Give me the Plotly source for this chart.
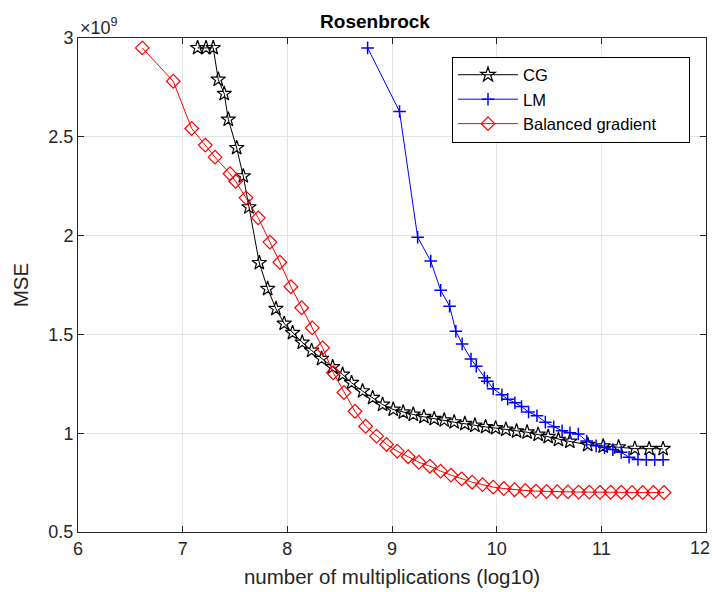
import plotly.graph_objects as go

# x: number of multiplications (log10); y: MSE in units of 1e9
cg_x = [7.143, 7.223, 7.292, 7.340, 7.397, 7.436, 7.516, 7.579, 7.633, 7.732,
        7.812, 7.891, 7.970, 8.050, 8.142, 8.232, 8.327, 8.433, 8.528, 8.614,
        8.719, 8.815, 8.910, 9.012, 9.107, 9.203, 9.305, 9.403, 9.499, 9.594,
        9.696, 9.792, 9.894, 9.990, 10.088, 10.190, 10.291, 10.396, 10.492, 10.590,
        10.699, 10.870, 11.018, 11.165, 11.320, 11.457, 11.590]
cg_y = [2.950, 2.950, 2.950, 2.790, 2.718, 2.588, 2.444, 2.301, 2.144, 1.862,
        1.731, 1.630, 1.555, 1.508, 1.459, 1.418, 1.377, 1.335, 1.297, 1.255,
        1.213, 1.179, 1.145, 1.120, 1.106, 1.095, 1.083, 1.073, 1.066, 1.056,
        1.048, 1.039, 1.032, 1.026, 1.019, 1.010, 1.005, 0.993, 0.982, 0.967,
        0.958, 0.942, 0.934, 0.929, 0.922, 0.921, 0.921]

lm_x = [8.767, 9.072, 9.245, 9.370, 9.465, 9.550, 9.610, 9.670, 9.755, 9.805,
        9.883, 9.911, 9.967, 10.050, 10.105, 10.174, 10.238, 10.305, 10.385, 10.465,
        10.545, 10.625, 10.700, 10.780, 10.860, 10.950, 11.030, 11.110, 11.190, 11.265,
        11.350, 11.430, 11.510, 11.590]
lm_y = [2.950, 2.628, 1.992, 1.871, 1.723, 1.643, 1.516, 1.452, 1.375, 1.339,
        1.280, 1.263, 1.225, 1.194, 1.172, 1.154, 1.135, 1.107, 1.088, 1.056,
        1.033, 1.012, 1.002, 0.996, 0.960, 0.936, 0.927, 0.917, 0.903, 0.878,
        0.867, 0.866, 0.866, 0.866]

bg_x = [6.614, 6.910, 7.086, 7.216, 7.309, 7.452, 7.506, 7.605, 7.722, 7.834,
        7.929, 8.034, 8.137, 8.238, 8.337, 8.439, 8.541, 8.646, 8.748, 8.853,
        8.948, 9.050, 9.155, 9.257, 9.362, 9.464, 9.563, 9.665, 9.766, 9.865,
        9.967, 10.069, 10.171, 10.273, 10.375, 10.477, 10.579, 10.681, 10.783, 10.885,
        10.987, 11.089, 11.191, 11.293, 11.395, 11.497, 11.599]
bg_y = [2.950, 2.781, 2.542, 2.458, 2.397, 2.313, 2.275, 2.191, 2.090, 1.967,
        1.865, 1.741, 1.635, 1.533, 1.432, 1.306, 1.206, 1.111, 1.035, 0.985,
        0.943, 0.909, 0.881, 0.853, 0.833, 0.808, 0.788, 0.769, 0.752, 0.740,
        0.727, 0.720, 0.714, 0.710, 0.707, 0.705, 0.704, 0.703, 0.702, 0.702,
        0.701, 0.701, 0.701, 0.700, 0.700, 0.700, 0.700]

x_ticks = [6, 7, 8, 9, 10, 11, 12]
x_ticktext = ["6", "7", "8", "9", "10", "11", "12"]
y_ticks = [0.5, 1, 1.5, 2, 2.5, 3]
y_ticktext = ["0.5", "1", "1.5", "2", "2.5", "3"]

TXT = "#262626"
FONT = "Liberation Sans, Arial, sans-serif"

fig = go.Figure()
fig.add_trace(go.Scatter(
    x=cg_x, y=cg_y, name="CG", mode="lines+markers",
    line=dict(color="black", width=1),
    marker=dict(symbol="star-open", size=11, color="black", line=dict(color="black", width=1.2)),
))
fig.add_trace(go.Scatter(
    x=lm_x, y=lm_y, name="LM", mode="lines+markers",
    line=dict(color="#0000ff", width=1),
    marker=dict(symbol="cross-thin-open", size=9, color="#0000ff", line=dict(color="#0000ff", width=1.5)),
))
fig.add_trace(go.Scatter(
    x=bg_x, y=bg_y, name="Balanced gradient\u00a0\u00a0\u00a0\u00a0\u00a0\u00a0", mode="lines+markers",
    line=dict(color="#ff0000", width=1),
    marker=dict(symbol="diamond-open", size=10.5, color="#ff0000", line=dict(color="#ff0000", width=1.2)),
))

axis_common = dict(
    showline=True, linecolor=TXT, linewidth=1, mirror="ticks",
    ticks="inside", ticklen=6, tickcolor=TXT, tickwidth=1,
    showgrid=True, gridcolor="#e3e3e3", gridwidth=1,
    zeroline=False, tickfont=dict(family=FONT, size=18, color=TXT),
    ticklabeloverflow="allow", automargin=False,
)

# the last x tick label sits at the right edge of the page; it is drawn as a
# right-aligned annotation so that it stays fully inside the picture
x_ticktext_axis = x_ticktext[:-1] + [""]

fig.update_layout(
    width=712, height=592,
    margin=dict(l=78, r=6, t=38, b=60, autoexpand=False),
    paper_bgcolor="white", plot_bgcolor="white",
    font=dict(family=FONT, color=TXT),
    title=dict(text="<b>Rosenbrock</b>", x=375 / 712, xanchor="center",
               y=1 - 21 / 592, yanchor="middle", yref="container",
               font=dict(family=FONT, size=19, color="black")),
    xaxis=dict(range=[6, 12], tickvals=x_ticks, ticktext=x_ticktext_axis,
               title=dict(text="number of multiplications (log10)", font=dict(family=FONT, size=20.5, color=TXT), standoff=12),
               **axis_common),
    yaxis=dict(range=[0.5, 3], tickvals=y_ticks, ticktext=y_ticktext,
               title=dict(text="MSE", font=dict(family=FONT, size=20.5, color=TXT), standoff=14),
               **axis_common),
    legend=dict(x=(452 - 78) / 628, y=(532.5 - 57) / 494, xanchor="left", yanchor="top",
                bgcolor="white", bordercolor="black", borderwidth=1,
                font=dict(family=FONT, size=16.5, color="black"), itemwidth=60),
    showlegend=True,
)
fig.add_annotation(xref="x", yref="paper", x=x_ticks[-1], y=0, xanchor="right", yanchor="middle",
                   text=x_ticktext[-1], showarrow=False, xshift=5, yshift=-16, borderpad=0,
                   font=dict(family=FONT, size=18, color=TXT))
fig.add_annotation(xref="paper", yref="paper", x=0, y=1, xanchor="left", yanchor="bottom",
                   text="×10<sup>9</sup>", showarrow=False, yshift=-2,
                   font=dict(family=FONT, size=18, color=TXT))

fig.write_html("out.html")
